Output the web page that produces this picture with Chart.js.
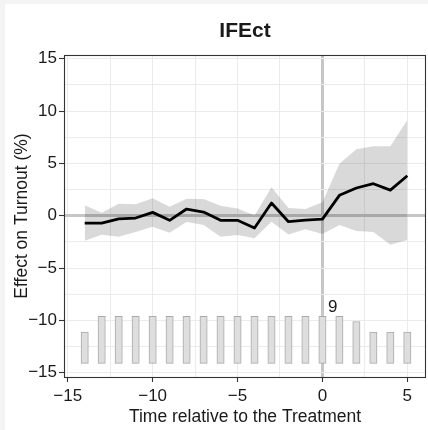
<!DOCTYPE html>
<html>
<head>
<meta charset="utf-8">
<script src="https://cdn.jsdelivr.net/npm/chart.js@4.4.1/dist/chart.umd.min.js"></script>
<style>
  html, body { margin: 0; padding: 0; background: #f4f4f4; width: 428px; height: 430px; overflow: hidden; }
  #wrap { position: absolute; left: 5px; top: 4px; width: 423px; height: 426px; background: #ffffff; }
  canvas { display: block; }
</style>
</head>
<body>
<div id="wrap"><canvas id="chart" width="423" height="426"></canvas></div>
<script>
// Event-study estimates: period relative to treatment onset
const times = [-14, -13, -12, -11, -10, -9, -8, -7, -6, -5, -4, -3, -2, -1, 0, 1, 2, 3, 4, 5];
// Point estimates (effect on turnout, %)
const estimates = [-0.70, -0.70, -0.29, -0.22, 0.32, -0.44, 0.64, 0.35, -0.44, -0.44,
                   -1.17, 1.21, -0.57, -0.41, -0.32, 1.95, 2.65, 3.06, 2.45, 3.82];
// 95% confidence bounds
const upperCI = [0.99, 0.29, 1.15, 1.09, 1.66, 0.86, 1.62, 1.59, 0.96, 0.70,
                 0.03, 2.71, 0.73, 0.64, 1.28, 4.97, 6.34, 6.63, 6.63, 9.14];
const lowerCI = [-2.39, -1.81, -2.00, -1.56, -1.05, -1.62, -0.60, -0.89, -2.00, -1.84,
                 -2.16, -0.57, -1.78, -1.30, -1.75, -0.89, -1.46, -1.56, -2.77, -2.32];
// Number of treated units observed at each relative period
const counts = [6, 9, 9, 9, 9, 9, 9, 9, 9, 9, 9, 9, 9, 9, 9, 9, 8, 6, 6, 6];
// Axis tick labels
const xTickValues = [-15, -10, -5, 0, 5];
const yTickValues = [-15, -10, -5, 0, 5, 10, 15];

// Count histogram drawn along the bottom of the panel
const countBase = -14.1;
const countUnit = 0.5;
const maxCount = Math.max(...counts);
const countLabelX = 0.6;

const FONT = '"Liberation Sans", Arial, Helvetica, sans-serif';
const TXT = '#1a1a1a';

const pts = arr => times.map((t, i) => ({ x: t, y: arr[i] }));
const bars = times.map((t, i) => ({ x: t, y: [countBase, countBase + counts[i] * countUnit] }));

const fmt = v => (v < 0 ? '\u2212' + Math.abs(v) : String(v));
const isMajor = (v, list) => list.includes(v);
const stepTicks = (lo, hi, step) => { const out = []; for (let v = lo; v <= hi + 1e-9; v += step) out.push({ value: +v.toFixed(2) }); return out; };

const panelPlugin = {
  id: 'panel',
  afterDatasetsDraw(chart) {
    const { ctx, chartArea: a, scales: { x, y } } = chart;
    ctx.save();
    ctx.font = '17px ' + FONT;
    ctx.fillStyle = TXT;
    ctx.textAlign = 'center';
    ctx.textBaseline = 'middle';
    ctx.fillText(String(maxCount), x.getPixelForValue(countLabelX), y.getPixelForValue(countBase + maxCount * countUnit + 0.9));
    ctx.strokeStyle = '#333333';
    ctx.lineWidth = 1.1;
    ctx.strokeRect(Math.round(a.left) + 0.5, Math.round(a.top) + 0.5, Math.round(a.right - a.left) - 1, Math.round(a.bottom - a.top));
    ctx.restore();
  }
};

const tickVal = ctx => (ctx && ctx.tick ? ctx.tick.value : null);
const gridColor = ctx => (tickVal(ctx) === 0 ? '#c6c6c6' : '#ebebeb');
const gridWidth = ctx => (tickVal(ctx) === 0 ? 3 : 1);
const tickColorFor = list => ctx => (isMajor(tickVal(ctx), list) ? '#333333' : 'rgba(0,0,0,0)');

new Chart(document.getElementById('chart'), {
  type: 'line',
  data: {
    datasets: [
      {
        type: 'bar',
        data: bars,
        backgroundColor: '#dedede',
        borderColor: '#a9a9a9',
        borderWidth: 1,
        borderSkipped: false,
        barThickness: 7.3,
        order: 3
      },
      {
        data: pts(upperCI),
        borderWidth: 0,
        borderColor: 'rgba(0,0,0,0)',
        backgroundColor: 'rgba(0,0,0,0.15)',
        fill: '+1',
        pointRadius: 0,
        order: 2
      },
      {
        data: pts(lowerCI),
        borderWidth: 0,
        borderColor: 'rgba(0,0,0,0)',
        fill: false,
        pointRadius: 0,
        order: 2
      },
      {
        data: pts(estimates),
        borderColor: '#000000',
        borderWidth: 2.8,
        borderJoinStyle: 'round',
        fill: false,
        pointRadius: 0,
        order: 1
      }
    ]
  },
  options: {
    responsive: false,
    animation: false,
    devicePixelRatio: 1,
    layout: { padding: { left: 0, right: 2, top: 0, bottom: 0 } },
    plugins: {
      legend: { display: false },
      tooltip: { enabled: false },
      title: {
        display: true,
        text: 'IFEct',
        fullSize: false,
        color: TXT,
        font: { family: FONT, size: 21, weight: 'bold', lineHeight: 1.2 },
        padding: { top: 15, bottom: 10.8 }
      }
    },
    scales: {
      x: {
        type: 'linear',
        offset: false,
        min: -15.22,
        max: 6.1,
        afterFit(s) { s.height = 53; },
        afterBuildTicks(s) { s.ticks = stepTicks(-15, 5, 2.5); },
        border: { display: false },
        grid: {
          offset: false,
          color: gridColor,
          lineWidth: gridWidth,
          tickLength: 5,
          tickWidth: 1.1,
          tickColor: tickColorFor(xTickValues)
        },
        ticks: {
          autoSkip: false,
          maxRotation: 0,
          padding: 4,
          color: TXT,
          font: { family: FONT, size: 17 },
          callback: v => (isMajor(v, xTickValues) ? fmt(v) : '')
        },
        title: {
          display: true,
          text: 'Time relative to the Treatment',
          color: TXT,
          font: { family: FONT, size: 17.5, lineHeight: 1.2 },
          padding: { top: 0, bottom: 2 }
        }
      },
      y: {
        type: 'linear',
        min: -15.4,
        max: 15.35,
        afterFit(s) { s.width = 59; },
        afterBuildTicks(s) { s.ticks = stepTicks(-15, 15, 2.5); },
        border: { display: false },
        grid: {
          color: gridColor,
          lineWidth: gridWidth,
          tickLength: 5,
          tickWidth: 1.1,
          tickColor: tickColorFor(yTickValues)
        },
        ticks: {
          autoSkip: false,
          padding: 2,
          color: TXT,
          font: { family: FONT, size: 17 },
          callback: v => (isMajor(v, yTickValues) ? fmt(v) : '')
        },
        title: {
          display: true,
          text: 'Effect on Turnout (%)',
          color: TXT,
          font: { family: FONT, size: 17.5, lineHeight: 1.2 },
          padding: { top: 7, bottom: 0 }
        }
      }
    }
  },
  plugins: [panelPlugin]
});
</script>
</body>
</html>
